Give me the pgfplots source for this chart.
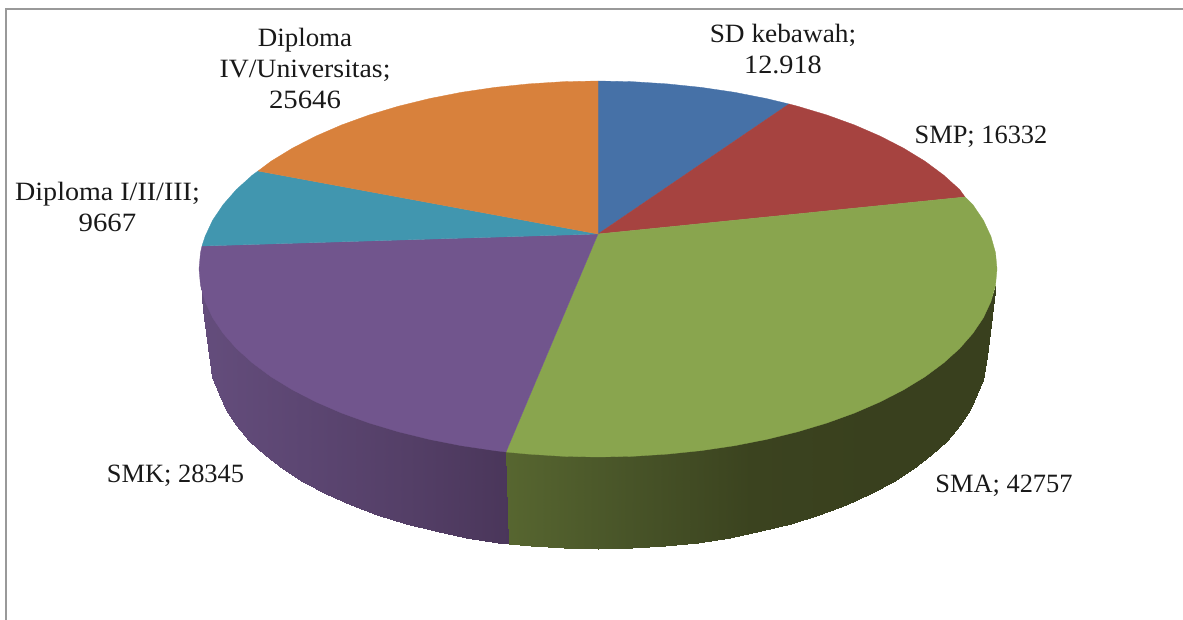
\documentclass[border=0pt]{standalone}
\usepackage{pgfplots}
\pgfplotsset{compat=1.18}
\usepackage{graphicx}
\usepackage{fontspec}
\setmainfont{Liberation Serif}
\definecolor{cSD}{RGB}{70,113,167}
\definecolor{cSMP}{RGB}{166,67,64}
\definecolor{cSMA}{RGB}{137,165,78}
\definecolor{cSMK}{RGB}{113,85,141}
\definecolor{cDI}{RGB}{65,150,175}
\definecolor{cDIV}{RGB}{216,129,60}
\definecolor{cFrame}{RGB}{153,153,153}
\pgfplotsset{
  colormap={greenside}{rgb255=(87,102,48) rgb255=(72,84,40) rgb255=(59,67,31) rgb255=(57,64,30) rgb255=(57,64,30)},
  colormap={purpleside}{rgb255=(100,77,124) rgb255=(92,70,114) rgb255=(84,63,103) rgb255=(74,54,90)},
}
\begin{document}
\begin{tikzpicture}
\begin{axis}[
  width=1183bp, height=620bp, scale only axis,
  xmin=0, xmax=1183, ymin=0, ymax=620, y dir=reverse,
  hide axis, clip=true,
  nodes={font=\fontsize{26.4bp}{31bp}\selectfont, align=center, text=black!90},
]
\path[use as bounding box] (axis cs:0,0) rectangle (axis cs:1183,620);
% frame
\addplot[cFrame, line width=1.8bp] coordinates {(5.7,620) (5.7,9) (1183,9)};
% side of SMK
\addplot[surf, shader=interp, mesh/rows=2, point meta=x, point meta rel=per plot, colormap name=purpleside] coordinates {
(200.5,283.4)(200.5,283.4)(200.5,283.4)(202.5,291)(205.1,299.6)(212.6,315.7)(223.1,331.3)(236.4,346.5)(252.5,361)(271.1,374.8)(292.4,387.8)(315.9,399.9)(341.5,411)(369.1,421)(398.5,429.8)(429.4,437.4)(461.5,443.7)(494.7,448.6)(507.5,450)

(200.5,283.4)(203,310)(207,340)(212,377.4)(218.8,393.6)(226.1,409.7)(236.2,425.3)(249.1,440.5)(264.6,455)(282.6,468.8)(303.1,481.8)(325.8,493.9)(350.5,505)(377.2,515)(405.5,523.8)(435.3,531.4)(466.3,537.7)(498.4,542.6)(510.5,544)
};
% side of SMA
\addplot[surf, shader=interp, mesh/rows=2, point meta=x, point meta rel=per plot, colormap name=greenside] coordinates {
(506,450)(528.7,452.1)(563.2,454.3)(598,455)(632.8,454.3)(667.3,452.1)(701.3,448.6)(734.5,443.7)(766.6,437.4)(797.5,429.8)(826.9,421)(854.5,411)(880.1,399.9)(903.6,387.8)(924.9,374.8)(943.5,361)(959.6,346.5)(972.9,331.3)(983.4,315.7)(990.9,299.6)(993.5,291)(995.5,283.4)(995.5,283.4)(995.5,283.4)

(509,544)(531.2,546.1)(564.4,548.3)(598,549)(631.6,548.3)(664.8,546.1)(697.6,542.6)(729.7,537.7)(760.7,531.4)(790.5,523.8)(818.8,515)(845.5,505)(870.2,493.9)(892.9,481.8)(913.4,468.8)(931.4,455)(946.9,440.5)(959.8,425.3)(969.9,409.7)(977.2,393.6)(982.5,380)(987,357)(992,310)(995.5,283.4)
};
% top faces
\addplot[fill=cSD, draw=cSD, line width=0.3bp] coordinates {(598,234)(598,81)(632.8,81.7)(667.3,83.9)(701.3,87.4)(734.5,92.3)(766.6,98.6)(789,104)} --cycle;
\addplot[fill=cSMP, draw=cSMP, line width=0.3bp] coordinates {(598,234)(789,104)(797.5,106.2)(826.9,115)(854.5,125)(880.1,136.1)(903.6,148.2)(924.9,161.2)(943.5,175)(959.6,189.5)(965,197)} --cycle;
\addplot[fill=cSMA, draw=cSMA, line width=0.3bp] coordinates {(598,234)(965,197)(972.9,204.7)(983.4,220.3)(990.9,236.4)(995.5,252.6)(997,269)(995.5,285.4)(990.9,301.6)(983.4,317.7)(972.9,333.3)(959.6,348.5)(943.5,363)(924.9,376.8)(903.6,389.8)(880.1,401.9)(854.5,413)(826.9,423)(797.5,431.8)(766.6,439.4)(734.5,445.7)(701.3,450.6)(667.3,454.1)(632.8,456.3)(598,457)(563.2,456.3)(528.7,454.1)(506,452)} --cycle;
\addplot[fill=cSMK, draw=cSMK, line width=0.3bp] coordinates {(598,234)(506,452)(494.7,450.6)(461.5,445.7)(429.4,439.4)(398.5,431.8)(369.1,423)(341.5,413)(315.9,401.9)(292.4,389.8)(271.1,376.8)(252.5,363)(236.4,348.5)(223.1,333.3)(212.6,317.7)(205.1,301.6)(200.5,285.4)(199,269)(200.5,252.6)(202,246)} --cycle;
\addplot[fill=cDI, draw=cDI, line width=0.3bp] coordinates {(598,234)(202,246)(205.1,236.4)(212.6,220.3)(223.1,204.7)(236.4,189.5)(252.5,175)(258,171)} --cycle;
\addplot[fill=cDIV, draw=cDIV, line width=0.3bp] coordinates {(598,234)(258,171)(271.1,161.2)(292.4,148.2)(315.9,136.1)(341.5,125)(369.1,115)(398.5,106.2)(429.4,98.6)(461.5,92.3)(494.7,87.4)(528.7,83.9)(563.2,81.7)(598,81)} --cycle;
% labels
\node at (axis cs:783,49.5) {\scalebox{1.035}[1]{SD kebawah;}\\\scalebox{1.07}[1]{12.918}};
\node at (axis cs:981,137) {SMP; 16332};
\node at (axis cs:1004,486) {SMA; 42757};
\node at (axis cs:175.5,476) {SMK; 28345};
\node at (axis cs:107.5,206.5) {\scalebox{1.063}[1]{Diploma I/II/III;}\\\scalebox{1.09}[1]{9667}};
\node at (axis cs:305,68.5) {\scalebox{1.02}[1]{Diploma}\\\scalebox{1.05}[1]{IV/Universitas;}\\\scalebox{1.09}[1]{25646}};
\end{axis}
\end{tikzpicture}
\end{document}
